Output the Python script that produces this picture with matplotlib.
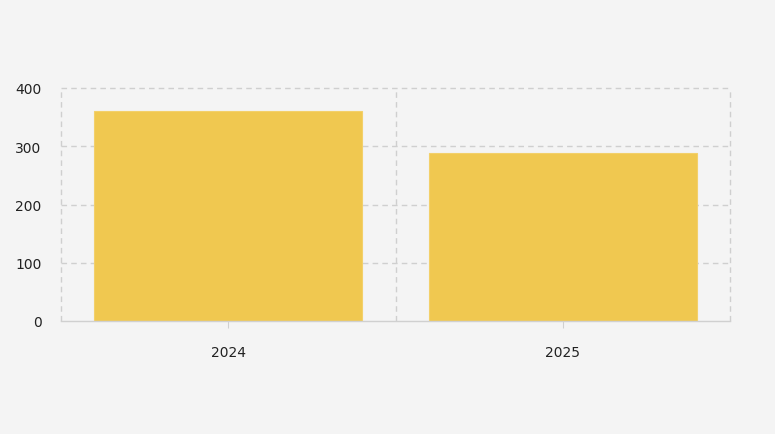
import matplotlib
matplotlib.use("Agg")
import matplotlib.pyplot as plt
import numpy as np

categories = ["2024", "2025"]
values = [360, 288]
yticks = [0, 100, 200, 300, 400]

bg = "#f4f4f4"
fig = plt.figure(figsize=(7.75, 4.35), dpi=100, facecolor=bg)
ax = fig.add_axes([61/775, 1-322/435, (730-61)/775, (322-89)/435], facecolor=bg)

x = np.arange(len(categories))
ax.bar(x, values, width=0.8, color="#f0c850", edgecolor="#f3d06a", linewidth=0.8, zorder=2)

ax.set_xlim(-0.5, len(categories)-0.5)
ax.set_ylim(0, 400)
ax.set_yticks(yticks)
ax.set_yticklabels([str(v) for v in yticks])
ax.set_xticks(x)
ax.set_xticklabels(categories)

# grid lines
for yv in yticks[1:]:
    ax.axhline(yv, color="#cfcfcf", linestyle=(0, (4, 3)), linewidth=1, zorder=1, clip_on=False)
for xv in np.arange(-0.5, len(categories), 1.0):
    ax.axvline(xv, color="#cfcfcf", linestyle=(0, (4, 3)), linewidth=1, zorder=1, clip_on=False)

for s in ["top", "right", "left"]:
    ax.spines[s].set_visible(False)
ax.spines["bottom"].set_color("#d0d0d0")
ax.spines["bottom"].set_linewidth(1)

ax.tick_params(axis="y", length=0, pad=14, labelsize=10, labelcolor="#222222")
ax.tick_params(axis="x", length=5, color="#d0d0d0", pad=12, labelsize=10, labelcolor="#222222")

fig.savefig("out.png", dpi=100, facecolor=bg)
